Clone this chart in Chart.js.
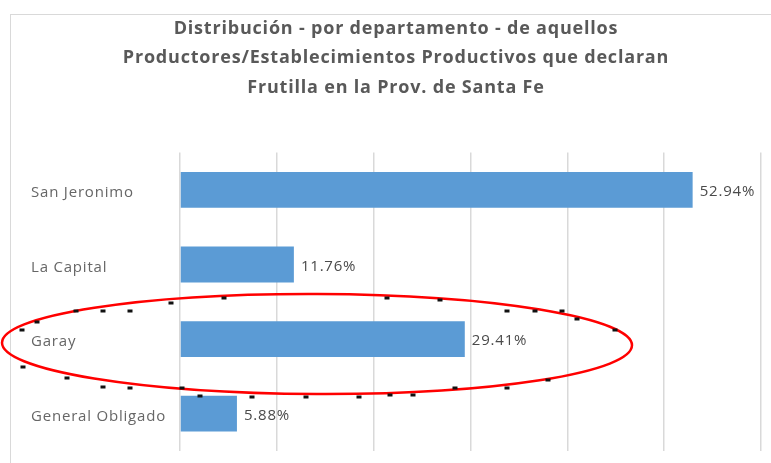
<!DOCTYPE html>
<html>
<head>
<meta charset="utf-8">
<script src="https://cdn.jsdelivr.net/npm/chart.js@4.4.0/dist/chart.umd.min.js"></script>
<style>
  html, body { margin: 0; padding: 0; background: #fff; }
  #wrap { width: 771px; height: 463px; position: relative; }
</style>
</head>
<body>
<div id="wrap"><canvas id="chart"></canvas></div>
<script>
const departamentos = ['San Jeronimo', 'La Capital', 'Garay', 'General Obligado'];
const porcentajes = [52.94, 11.76, 29.41, 5.88];
const titulo = [
  'Distribución - por departamento - de aquellos',
  'Productores/Establecimientos Productivos que declaran',
  'Frutilla en la Prov. de Santa Fe'
];

const FONT = '"Open Sans", sans-serif';

// marco gris del grafico + espaciado de letras
const marco = {
  id: 'marco',
  beforeDraw(chart) {
    const ctx = chart.ctx;
    ctx.letterSpacing = '0.8px';
    ctx.save();
    ctx.strokeStyle = '#d9d9d9';
    ctx.lineWidth = 1;
    ctx.strokeRect(10.5, 14.5, 900, 600);
    ctx.restore();
  }
};

// porcentaje al final de cada barra
const etiquetas = {
  id: 'etiquetas',
  afterDatasetsDraw(chart) {
    const ctx = chart.ctx;
    const meta = chart.getDatasetMeta(0);
    ctx.save();
    ctx.font = '15px ' + FONT;
    ctx.fillStyle = '#4a4a4a';
    ctx.textAlign = 'left';
    ctx.textBaseline = 'middle';
    meta.data.forEach((bar, i) => {
      ctx.fillText(porcentajes[i].toFixed(2) + '%', bar.x + 7, bar.y + 2);
    });
    ctx.restore();
  }
};

// ovalo rojo marcando Garay
const puntos = [
  [22, 330], [37, 322], [76, 311], [103, 311], [130, 311], [171, 303], [224, 298],
  [387, 298], [440, 300], [507, 311], [535, 311], [562, 311], [577, 319], [615, 330],
  [23, 367], [67, 378], [103, 387], [130, 388], [182, 388], [200, 396], [252, 397],
  [306, 397], [359, 397], [390, 395], [413, 395], [455, 388], [507, 388], [548, 380]
];
const ovalo = {
  id: 'ovalo',
  afterDraw(chart) {
    const ctx = chart.ctx;
    ctx.save();
    ctx.strokeStyle = '#ff0000';
    ctx.lineWidth = 2.5;
    ctx.beginPath();
    ctx.ellipse(317, 344, 315, 50, 0.004, 0, Math.PI * 2);
    ctx.stroke();
    ctx.fillStyle = '#111';
    puntos.forEach(([x, y]) => ctx.fillRect(x - 2.5, y - 1.5, 5, 3));
    ctx.restore();
  }
};

new Chart(document.getElementById('chart'), {
  type: 'bar',
  data: {
    labels: departamentos,
    datasets: [{
      data: porcentajes,
      backgroundColor: '#5b9bd5',
      borderWidth: 0,
      categoryPercentage: 1,
      barPercentage: 0.48
    }]
  },
  options: {
    indexAxis: 'y',
    responsive: true,
    maintainAspectRatio: false,
    animation: false,
    layout: { padding: { left: 31, right: 10, top: 0, bottom: 11 } },
    plugins: {
      legend: { display: false },
      tooltip: { enabled: false },
      title: {
        display: true,
        text: titulo,
        color: '#595959',
        font: { family: FONT, size: 18, weight: 'bold', lineHeight: 1.64 },
        padding: { top: 14, bottom: 50 }
      }
    },
    scales: {
      x: {
        min: 0,
        max: 60,
        ticks: { display: false, stepSize: 10 },
        grid: { color: '#d9d9d9', lineWidth: 1.5, drawTicks: false },
        border: { display: false }
      },
      y: {
        grid: { display: false },
        border: { display: false },
        ticks: {
          crossAlign: 'far',
          labelOffset: 3,
          color: '#666666',
          font: { family: FONT, size: 15 }
        },
        afterFit(scale) { scale.width = 149; }
      }
    }
  },
  plugins: [marco, etiquetas, ovalo]
});
</script>
</body>
</html>
